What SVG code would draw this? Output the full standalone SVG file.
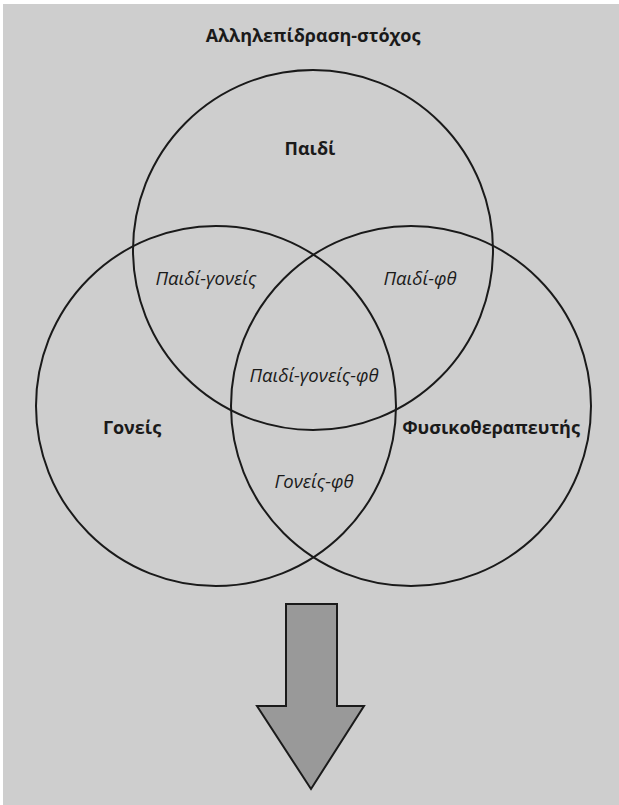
<svg xmlns="http://www.w3.org/2000/svg" width="619" height="805" viewBox="0 0 619 805">
<style>
.c{fill:none;stroke:#1a1a1a;stroke-width:2}
.b{font-family:"Open Sans","Noto Sans","Liberation Sans",sans-serif;font-weight:bold;font-size:18px;fill:#1a1a1a;text-anchor:middle}
.i{font-family:"Open Sans","Noto Sans","Liberation Sans",sans-serif;font-style:italic;font-size:18.5px;fill:#1a1a1a;text-anchor:middle}
</style>
<rect x="3" y="4" width="616" height="801" fill="#cecece"/>
<text class="b" x="313" y="42">Αλληλεπίδραση-στόχος</text>
<g id="child"><circle class="c" cx="313" cy="250" r="180"/><text class="b" x="310" y="155">Παιδί</text></g>
<g id="parents"><circle class="c" cx="216" cy="406" r="180"/><text class="b" x="132" y="434">Γονείς</text></g>
<g id="physio"><circle class="c" cx="411" cy="406" r="180"/><text class="b" x="491" y="434">Φυσικοθεραπευτής</text></g>
<g id="child-parents"><text class="i" x="206" y="285">Παιδί-γονείς</text></g>
<g id="child-physio"><text class="i" x="420" y="285">Παιδί-φθ</text></g>
<g id="all"><text class="i" x="314" y="382">Παιδί-γονείς-φθ</text></g>
<g id="parents-physio"><text class="i" x="314" y="488">Γονείς-φθ</text></g>
<g id="arrow"><polygon points="286,604 337,604 337,706 364,706 311,789 257,706 286,706" fill="#999999" stroke="#1a1a1a" stroke-width="2"/></g>
</svg>
